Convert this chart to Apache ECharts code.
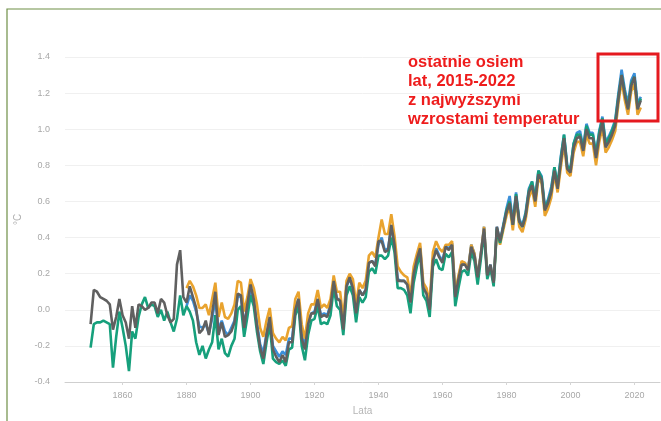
<!DOCTYPE html>
<html>
<head>
<meta charset="utf-8">
<script src="https://cdn.jsdelivr.net/npm/echarts@6/dist/echarts.min.js"></script>
<style>
  html, body { margin: 0; padding: 0; background: #fff; }
  #chart { width: 661px; height: 421px; }
</style>
</head>
<body>
<div id="chart"></div>
<script>
// anomalie temperatury [°C]
var yearTicks = [1860, 1880, 1900, 1920, 1940, 1960, 1980, 2000, 2020];

var startGray = 1850;
var gray = [
  -0.08, 0.11, 0.10, 0.07, 0.06, 0.05, 0.03, -0.11, -0.04, 0.06,
  -0.03, -0.07, -0.16, 0.02, -0.10, 0.03, 0.02, 0.00, 0.01, 0.04,
  0.04, -0.02, 0.06, 0.04, -0.03, -0.07, -0.05, 0.25, 0.33, 0.07,
  0.04, 0.13, 0.07, 0.01, -0.13, -0.11, -0.06, -0.14, -0.02, 0.10,
  -0.14, -0.07, -0.15, -0.14, -0.12, -0.07, 0.09, 0.08, -0.10, 0.03,
  0.14, 0.06, -0.09, -0.21, -0.27, -0.14, -0.04, -0.22, -0.26, -0.29,
  -0.25, -0.29, -0.18, -0.18, 0.00, 0.06, -0.16, -0.22, -0.08, -0.02,
  -0.02, 0.06, -0.04, -0.03, -0.04, 0.02, 0.16, 0.06, 0.05, -0.11,
  0.13, 0.18, 0.12, -0.02, 0.11, 0.08, 0.11, 0.26, 0.27, 0.24,
  0.38, 0.38, 0.32, 0.33, 0.47, 0.36, 0.16, 0.16, 0.16, 0.14,
  0.04, 0.20, 0.28, 0.34, 0.12, 0.09, 0.00, 0.27, 0.33, 0.29,
  0.26, 0.35, 0.33, 0.36, 0.07, 0.17, 0.25, 0.25, 0.22, 0.35,
  0.30, 0.18, 0.31, 0.45, 0.19, 0.25, 0.15, 0.46, 0.38, 0.46,
  0.54, 0.59, 0.47, 0.63, 0.49, 0.46, 0.52, 0.65, 0.69, 0.60,
  0.75, 0.72, 0.55, 0.59, 0.65, 0.77, 0.67, 0.82, 0.95, 0.78,
  0.76, 0.90, 0.95, 0.96, 0.88, 1.00, 0.95, 0.95, 0.84, 0.96,
  1.04, 0.90, 0.93, 0.97, 1.02, 1.17, 1.30, 1.19, 1.11, 1.24,
  1.29, 1.11, 1.16
];

var startGreen = 1850;
var green = [
  -0.21, -0.08, -0.07, -0.07, -0.06, -0.07, -0.08, -0.32, -0.15, -0.01,
  -0.10, -0.20, -0.34, -0.12, -0.16, -0.04, 0.03, 0.07, 0.01, 0.03,
  0.02, -0.04, 0.00, -0.06, -0.01, -0.07, -0.12, -0.05, 0.08, -0.03,
  0.02, -0.01, -0.06, -0.18, -0.25, -0.20, -0.27, -0.22, -0.18, -0.03,
  -0.22, -0.16, -0.24, -0.26, -0.20, -0.16, 0.00, 0.02, -0.15, -0.04,
  0.08, 0.02, -0.12, -0.23, -0.30, -0.18, -0.08, -0.27, -0.29, -0.30,
  -0.28, -0.31, -0.22, -0.21, -0.03, 0.02, -0.20, -0.28, -0.14, -0.06,
  -0.05, 0.02, -0.08, -0.07, -0.08, -0.03, 0.12, 0.02, 0.00, -0.14,
  0.08, 0.13, 0.08, -0.07, 0.07, 0.04, 0.07, 0.21, 0.23, 0.20,
  0.30, 0.30, 0.28, 0.30, 0.40, 0.32, 0.12, 0.12, 0.11, 0.08,
  -0.02, 0.15, 0.24, 0.31, 0.08, 0.05, -0.04, 0.24, 0.28, 0.23,
  0.22, 0.31, 0.29, 0.32, 0.02, 0.12, 0.21, 0.22, 0.19, 0.32,
  0.27, 0.14, 0.28, 0.43, 0.17, 0.23, 0.13, 0.45, 0.37, 0.46,
  0.55, 0.60, 0.47, 0.64, 0.49, 0.46, 0.53, 0.66, 0.71, 0.61,
  0.77, 0.73, 0.56, 0.60, 0.66, 0.79, 0.69, 0.84, 0.97, 0.79,
  0.78, 0.92, 0.97, 0.97, 0.89, 1.02, 0.97, 0.97, 0.86, 0.98,
  1.06, 0.92, 0.95, 0.99, 1.04, 1.18, 1.30, 1.20, 1.12, 1.25,
  1.29, 1.12, 1.17
];

var startOrange = 1880;
var orange = [
  0.12, 0.16, 0.13, 0.08, 0.01, 0.01, 0.03, -0.03, 0.06, 0.15,
  -0.04, 0.04, -0.04, -0.05, -0.02, 0.03, 0.16, 0.15, -0.01, 0.07,
  0.17, 0.12, 0.03, -0.10, -0.15, -0.06, 0.01, -0.13, -0.16, -0.18,
  -0.15, -0.17, -0.10, -0.09, 0.06, 0.10, -0.08, -0.16, -0.02, 0.03,
  0.03, 0.11, 0.01, 0.03, 0.01, 0.06, 0.19, 0.10, 0.10, -0.05,
  0.16, 0.20, 0.17, 0.03, 0.15, 0.12, 0.16, 0.30, 0.32, 0.29,
  0.40, 0.50, 0.42, 0.42, 0.53, 0.41, 0.24, 0.21, 0.19, 0.18,
  0.08, 0.24, 0.31, 0.37, 0.15, 0.12, 0.04, 0.32, 0.38, 0.34,
  0.32, 0.36, 0.36, 0.38, 0.09, 0.19, 0.27, 0.26, 0.22, 0.36,
  0.31, 0.18, 0.31, 0.46, 0.19, 0.24, 0.15, 0.44, 0.36, 0.44,
  0.52, 0.57, 0.44, 0.61, 0.46, 0.43, 0.50, 0.62, 0.67, 0.57,
  0.73, 0.70, 0.52, 0.56, 0.62, 0.75, 0.65, 0.79, 0.92, 0.76,
  0.74, 0.87, 0.93, 0.93, 0.85, 0.97, 0.92, 0.92, 0.80, 0.93,
  1.01, 0.87, 0.90, 0.94, 0.99, 1.14, 1.27, 1.16, 1.08, 1.21,
  1.25, 1.08, 1.12
];

var startBlue = 1880;
var blue = [
  0.02, 0.08, 0.05, -0.01, -0.09, -0.10, -0.08, -0.13, -0.05, 0.06,
  -0.11, -0.06, -0.12, -0.14, -0.10, -0.06, 0.08, 0.07, -0.08, 0.01,
  0.11, 0.05, -0.07, -0.19, -0.24, -0.13, -0.05, -0.20, -0.23, -0.26,
  -0.23, -0.25, -0.16, -0.16, 0.01, 0.06, -0.14, -0.20, -0.07, -0.02,
  -0.01, 0.06, -0.03, -0.02, -0.03, 0.03, 0.15, 0.06, 0.06, -0.09,
  0.13, 0.17, 0.12, -0.01, 0.11, 0.08, 0.11, 0.26, 0.27, 0.25,
  0.36, 0.40, 0.33, 0.34, 0.46, 0.36, 0.17, 0.16, 0.16, 0.14,
  0.05, 0.21, 0.29, 0.35, 0.13, 0.10, 0.01, 0.28, 0.34, 0.30,
  0.27, 0.35, 0.34, 0.37, 0.08, 0.18, 0.26, 0.26, 0.22, 0.36,
  0.31, 0.18, 0.31, 0.46, 0.20, 0.25, 0.15, 0.46, 0.38, 0.47,
  0.56, 0.63, 0.49, 0.65, 0.50, 0.47, 0.54, 0.67, 0.71, 0.62,
  0.77, 0.74, 0.57, 0.61, 0.68, 0.79, 0.69, 0.85, 0.97, 0.80,
  0.78, 0.92, 0.98, 0.99, 0.90, 1.03, 0.98, 0.98, 0.86, 0.99,
  1.07, 0.93, 0.96, 1.00, 1.05, 1.20, 1.33, 1.22, 1.14, 1.27,
  1.31, 1.14, 1.18
];

function pairs(start, arr) {
  return arr.map(function (v, i) { return [start + i, v]; });
}

var chart = echarts.init(document.getElementById('chart'));

function lineSeries(name, color, start, arr) {
  return {
    name: name,
    type: 'line',
    showSymbol: false,
    lineStyle: { color: color, width: 2.6 },
    itemStyle: { color: color },
    emphasis: { disabled: true },
    data: pairs(start, arr)
  };
}

var option = {
  animation: false,
  backgroundColor: '#ffffff',
  grid: { left: 65, right: 1, top: 57, bottom: 34 },
  xAxis: {
    type: 'value',
    min: 1842,
    max: 2028,
    name: 'Lata',
    nameLocation: 'middle',
    nameGap: 24,
    nameTextStyle: { color: '#b5b5b5', fontSize: 10, fontFamily: 'Liberation Sans' },
    axisLine: { show: true, onZero: false, lineStyle: { color: '#cfcfcf', width: 1 } },
    axisTick: { show: true, length: 3, lineStyle: { color: '#d5d5d5' }, customValues: yearTicks },
    axisLabel: {
      color: '#a8a8a8', fontSize: 9, fontFamily: 'Liberation Sans', margin: 9,
      customValues: yearTicks,
      formatter: function (v) { return String(v); }
    },
    splitLine: { show: false }
  },
  yAxis: {
    type: 'value',
    min: -0.4,
    max: 1.4,
    interval: 0.2,
    name: '°C',
    nameLocation: 'middle',
    nameGap: 36,
    nameRotate: 90,
    nameTextStyle: { color: '#b0b0b0', fontSize: 10, fontFamily: 'Liberation Sans' },
    axisLine: { show: false },
    axisTick: { show: false },
    axisLabel: {
      color: '#a8a8a8', fontSize: 9, fontFamily: 'Liberation Sans', margin: 15,
      formatter: function (v) { return v.toFixed(1); }
    },
    splitLine: { show: true, lineStyle: { color: '#f0f0f0', width: 1 } }
  },
  series: [
    lineSeries('NOAA', '#3b8fd9', startBlue, blue),
    lineSeries('GISTEMP', '#e9a32e', startOrange, orange),
    lineSeries('Berkeley', '#16a07c', startGreen, green),
    lineSeries('HadCRUT', '#606060', startGray, gray)
  ],
  graphic: [
    {
      type: 'rect',
      shape: { x: 7, y: 9, width: 700, height: 500 },
      style: { fill: 'none', stroke: '#6f8f46', lineWidth: 1.2 },
      silent: true
    },
    {
      type: 'text',
      left: 408,
      top: 53,
      style: {
        text: 'ostatnie osiem\nlat, 2015-2022\nz najwyższymi\nwzrostami temperatur',
        fill: '#ee1c1c',
        font: 'bold 16.5px "Liberation Sans", Arial, sans-serif',
        lineHeight: 19
      },
      silent: true
    },
    {
      type: 'rect',
      shape: { x: 598, y: 54, width: 60, height: 67 },
      style: { fill: 'none', stroke: '#e5191f', lineWidth: 3 },
      silent: true,
      z: 100
    }
  ]
};

chart.setOption(option);
</script>
</body>
</html>
